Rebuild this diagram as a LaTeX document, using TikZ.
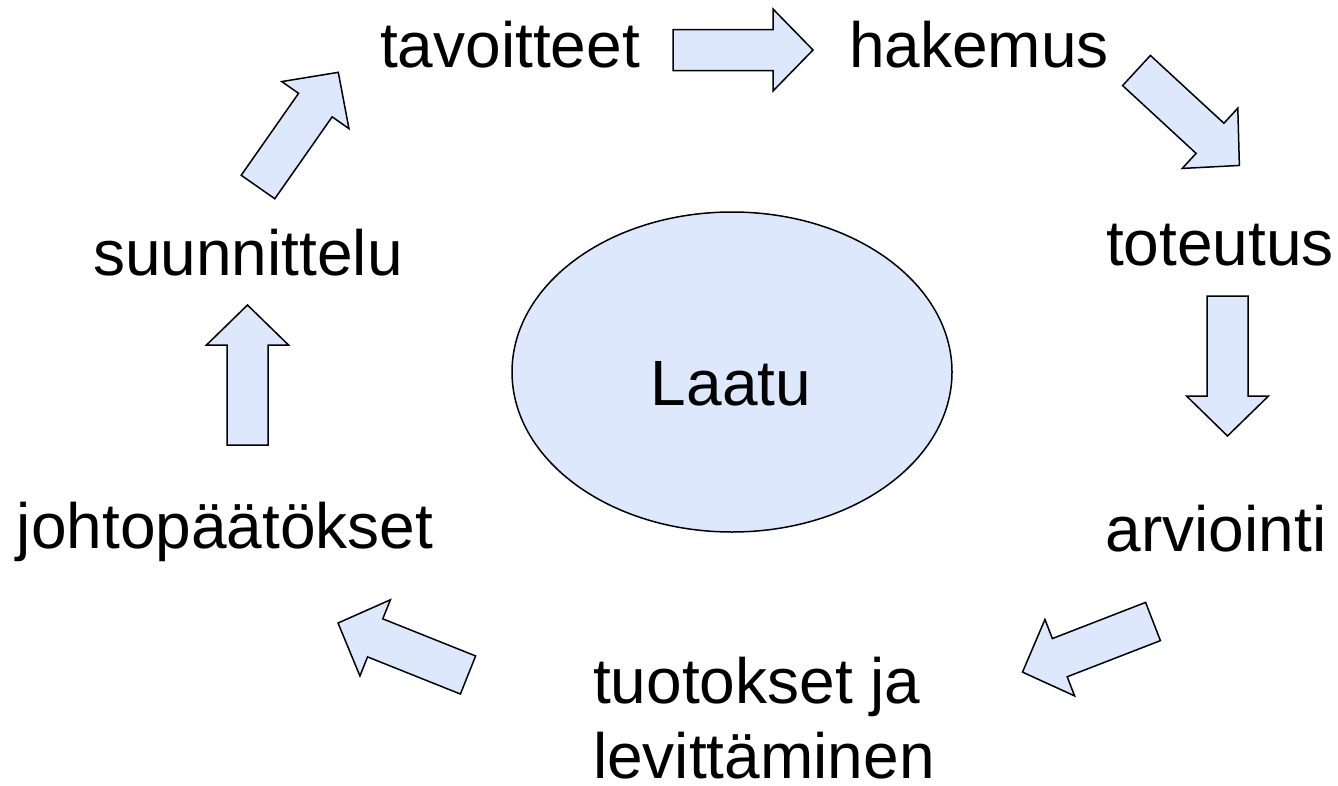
\documentclass[tikz,border=0pt]{standalone}
\usepackage{fontspec}
\setmainfont{Liberation Sans}
\usetikzlibrary{shapes.geometric}
\definecolor{fillblue}{RGB}{221,232,252}
\tikzset{
  lbl/.style={font=\fontsize{64}{75}\selectfont, inner sep=0pt, anchor=base},
  blockarrow/.style={draw=black, line width=1.5pt, fill=fillblue, line join=miter},
}
\newcommand{\blockarr}[4]{%
  \begin{scope}[shift={(#2,#3)}, rotate=#4]
    \draw[blockarrow] (0,-20.5) -- (100,-20.5) -- (100,-41) -- (140,0) -- (100,41) -- (100,20.5) -- (0,20.5) -- cycle;
    \coordinate (#1) at (70,0);
  \end{scope}}
\begin{document}
\begin{tikzpicture}[x=1pt, y=-1pt]
\useasboundingbox (0,0) rectangle (1338,785);
\node[draw=black, line width=1.5pt, fill=fillblue, ellipse, minimum width=440pt, minimum height=320pt, inner sep=0pt] (laatu) at (732,372) {};
\node[lbl] (laatutxt) at (731,405) {Laatu};
\node[lbl] (tav) at (510,67) {tavoitteet};
\node[lbl] (hak) at (979,67) {hakemus};
\node[lbl] (tot) at (1220,265) {toteutus};
\node[lbl] (arv) at (1216,551) {arviointi};
\node[lbl, anchor=base west] (tuo) at (593,703) {tuotokset ja};
\node[lbl, anchor=base west] (lev) at (593,778) {levittäminen};
\node[lbl] (joh) at (225,548) {johtopäätökset};
\node[lbl] (suu) at (248,275) {suunnittelu};
\blockarr{a1}{673}{50}{0}
\blockarr{a2}{1136.5}{70.5}{-42.7}
\blockarr{a3}{1227.5}{296}{-90}
\blockarr{a4}{1153}{621.5}{-158.8}
\blockarr{a5}{468}{675}{158.2}
\blockarr{a6}{247.5}{445}{90}
\blockarr{a7}{258}{187}{55}
\end{tikzpicture}
\end{document}
